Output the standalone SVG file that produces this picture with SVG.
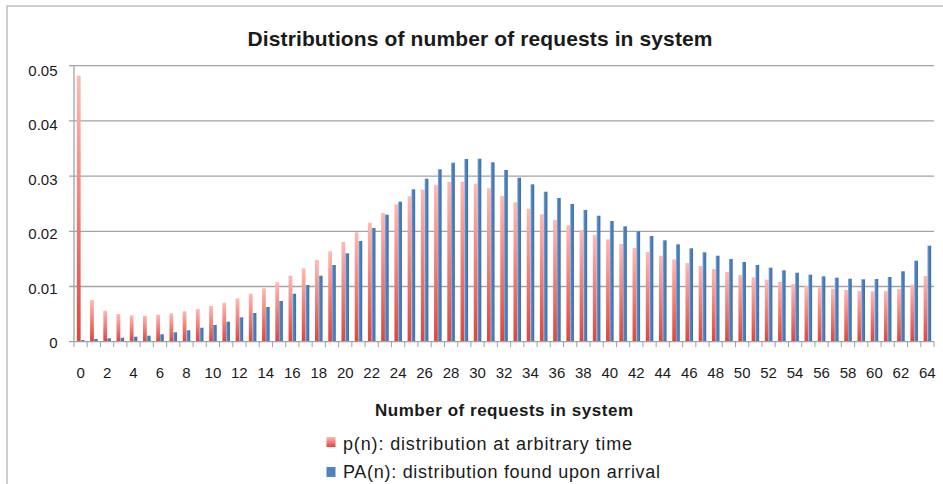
<svg xmlns="http://www.w3.org/2000/svg" width="943" height="484" viewBox="0 0 943 484">
<style>
text{font-family:"Liberation Sans",Arial,sans-serif;fill:#1a1a1a}
.ax{font-size:15px}
.yl{text-anchor:end}
.xl{text-anchor:middle}
.grid{stroke:#a3a3a3;stroke-width:1.3;fill:none}
.tick{stroke:#a3a3a3;stroke-width:1;fill:none}
.r{fill:url(#gr)}
.b{fill:url(#gb)}
</style>
<defs>
<linearGradient id="gr" x1="0" y1="0" x2="0" y2="1">
<stop offset="0" stop-color="#ffb9b4"/>
<stop offset="1" stop-color="#dd463c"/>
</linearGradient>
<linearGradient id="gb" x1="0" y1="0" x2="1" y2="0">
<stop offset="0" stop-color="#8cb0dc"/>
<stop offset="0.35" stop-color="#4f82c0"/>
<stop offset="1" stop-color="#3d6eab"/>
</linearGradient>
</defs>
<rect x="0" y="0" width="943" height="484" fill="#fff"/>
<rect id="frame" x="7" y="6" width="1000" height="600" fill="#fff" stroke="#bdbdbd" stroke-width="1.5"/>
<text id="title" x="480" y="46" text-anchor="middle" font-size="21" font-weight="bold" textLength="465">Distributions of number of requests in system</text>
<g id="gridlines">
<path class="grid" d="M69 65.7H934M69 120.9H934M69 176.1H934M69 231.3H934M69 286.5H934"/>
</g>
<g id="series-p">
<rect class="r" x="76.85" y="75.7" width="3.78" height="266.0"/>
<rect class="r" x="90.08" y="300" width="3.78" height="41.7"/>
<rect class="r" x="103.31" y="310.7" width="3.78" height="31.0"/>
<rect class="r" x="116.54" y="314" width="3.78" height="27.7"/>
<rect class="r" x="129.77" y="315.3" width="3.78" height="26.4"/>
<rect class="r" x="143.00" y="315.7" width="3.78" height="26.0"/>
<rect class="r" x="156.23" y="314.7" width="3.78" height="27.0"/>
<rect class="r" x="169.47" y="313.3" width="3.78" height="28.4"/>
<rect class="r" x="182.70" y="311.3" width="3.78" height="30.4"/>
<rect class="r" x="195.93" y="309" width="3.78" height="32.7"/>
<rect class="r" x="209.16" y="306" width="3.78" height="35.7"/>
<rect class="r" x="222.39" y="302.7" width="3.78" height="39.0"/>
<rect class="r" x="235.62" y="298.3" width="3.78" height="43.4"/>
<rect class="r" x="248.85" y="293.7" width="3.78" height="48.0"/>
<rect class="r" x="262.08" y="288.3" width="3.78" height="53.4"/>
<rect class="r" x="275.31" y="282.3" width="3.78" height="59.4"/>
<rect class="r" x="288.54" y="275.7" width="3.78" height="66.0"/>
<rect class="r" x="301.77" y="268.3" width="3.78" height="73.4"/>
<rect class="r" x="315.00" y="260" width="3.78" height="81.7"/>
<rect class="r" x="328.24" y="251.3" width="3.78" height="90.4"/>
<rect class="r" x="341.47" y="242" width="3.78" height="99.7"/>
<rect class="r" x="354.70" y="232.3" width="3.78" height="109.4"/>
<rect class="r" x="367.93" y="222.7" width="3.78" height="119.0"/>
<rect class="r" x="381.16" y="213" width="3.78" height="128.7"/>
<rect class="r" x="394.39" y="204.3" width="3.78" height="137.4"/>
<rect class="r" x="407.62" y="196.3" width="3.78" height="145.4"/>
<rect class="r" x="420.85" y="189.7" width="3.78" height="152.0"/>
<rect class="r" x="434.08" y="184.7" width="3.78" height="157.0"/>
<rect class="r" x="447.31" y="182" width="3.78" height="159.7"/>
<rect class="r" x="460.54" y="181.7" width="3.78" height="160.0"/>
<rect class="r" x="473.77" y="183.7" width="3.78" height="158.0"/>
<rect class="r" x="487.01" y="188.3" width="3.78" height="153.4"/>
<rect class="r" x="500.24" y="196" width="3.78" height="145.7"/>
<rect class="r" x="513.47" y="202.3" width="3.78" height="139.4"/>
<rect class="r" x="526.70" y="208.7" width="3.78" height="133.0"/>
<rect class="r" x="539.93" y="214.3" width="3.78" height="127.4"/>
<rect class="r" x="553.16" y="220" width="3.78" height="121.7"/>
<rect class="r" x="566.39" y="225.3" width="3.78" height="116.4"/>
<rect class="r" x="579.62" y="230" width="3.78" height="111.7"/>
<rect class="r" x="592.85" y="235" width="3.78" height="106.7"/>
<rect class="r" x="606.08" y="239.3" width="3.78" height="102.4"/>
<rect class="r" x="619.31" y="244" width="3.78" height="97.7"/>
<rect class="r" x="632.54" y="248" width="3.78" height="93.7"/>
<rect class="r" x="645.78" y="252" width="3.78" height="89.7"/>
<rect class="r" x="659.01" y="255.7" width="3.78" height="86.0"/>
<rect class="r" x="672.24" y="259.3" width="3.78" height="82.4"/>
<rect class="r" x="685.47" y="263" width="3.78" height="78.7"/>
<rect class="r" x="698.70" y="266" width="3.78" height="75.7"/>
<rect class="r" x="711.93" y="269" width="3.78" height="72.7"/>
<rect class="r" x="725.16" y="272" width="3.78" height="69.7"/>
<rect class="r" x="738.39" y="275" width="3.78" height="66.7"/>
<rect class="r" x="751.62" y="277.3" width="3.78" height="64.4"/>
<rect class="r" x="764.85" y="279.7" width="3.78" height="62.0"/>
<rect class="r" x="778.08" y="282" width="3.78" height="59.7"/>
<rect class="r" x="791.31" y="284" width="3.78" height="57.7"/>
<rect class="r" x="804.55" y="286" width="3.78" height="55.7"/>
<rect class="r" x="817.78" y="287.3" width="3.78" height="54.4"/>
<rect class="r" x="831.01" y="288.7" width="3.78" height="53.0"/>
<rect class="r" x="844.24" y="290" width="3.78" height="51.7"/>
<rect class="r" x="857.47" y="291" width="3.78" height="50.7"/>
<rect class="r" x="870.70" y="291.3" width="3.78" height="50.4"/>
<rect class="r" x="883.93" y="291" width="3.78" height="50.7"/>
<rect class="r" x="897.16" y="289" width="3.78" height="52.7"/>
<rect class="r" x="910.39" y="284.7" width="3.78" height="57.0"/>
<rect class="r" x="923.62" y="276" width="3.78" height="65.7"/>
</g>
<g id="series-pa">
<rect class="b" x="80.63" y="340" width="3.78" height="1.7"/>
<rect class="b" x="93.86" y="339" width="3.78" height="2.7"/>
<rect class="b" x="107.09" y="338.3" width="3.78" height="3.4"/>
<rect class="b" x="120.32" y="337.7" width="3.78" height="4.0"/>
<rect class="b" x="133.55" y="336.7" width="3.78" height="5.0"/>
<rect class="b" x="146.78" y="335.7" width="3.78" height="6.0"/>
<rect class="b" x="160.01" y="334.3" width="3.78" height="7.4"/>
<rect class="b" x="173.25" y="332.3" width="3.78" height="9.4"/>
<rect class="b" x="186.48" y="330.3" width="3.78" height="11.4"/>
<rect class="b" x="199.71" y="327.7" width="3.78" height="14.0"/>
<rect class="b" x="212.94" y="325" width="3.78" height="16.7"/>
<rect class="b" x="226.17" y="321.7" width="3.78" height="20.0"/>
<rect class="b" x="239.40" y="317.3" width="3.78" height="24.4"/>
<rect class="b" x="252.63" y="313" width="3.78" height="28.7"/>
<rect class="b" x="265.86" y="307" width="3.78" height="34.7"/>
<rect class="b" x="279.09" y="301" width="3.78" height="40.7"/>
<rect class="b" x="292.32" y="293.7" width="3.78" height="48.0"/>
<rect class="b" x="305.55" y="285" width="3.78" height="56.7"/>
<rect class="b" x="318.78" y="275.7" width="3.78" height="66.0"/>
<rect class="b" x="332.02" y="265" width="3.78" height="76.7"/>
<rect class="b" x="345.25" y="253.3" width="3.78" height="88.4"/>
<rect class="b" x="358.48" y="241" width="3.78" height="100.7"/>
<rect class="b" x="371.71" y="228" width="3.78" height="113.7"/>
<rect class="b" x="384.94" y="214.7" width="3.78" height="127.0"/>
<rect class="b" x="398.17" y="201.7" width="3.78" height="140.0"/>
<rect class="b" x="411.40" y="189.3" width="3.78" height="152.4"/>
<rect class="b" x="424.63" y="178.7" width="3.78" height="163.0"/>
<rect class="b" x="437.86" y="169.3" width="3.78" height="172.4"/>
<rect class="b" x="451.09" y="162.7" width="3.78" height="179.0"/>
<rect class="b" x="464.32" y="159" width="3.78" height="182.7"/>
<rect class="b" x="477.55" y="158.7" width="3.78" height="183.0"/>
<rect class="b" x="490.79" y="162.3" width="3.78" height="179.4"/>
<rect class="b" x="504.02" y="170" width="3.78" height="171.7"/>
<rect class="b" x="517.25" y="177.7" width="3.78" height="164.0"/>
<rect class="b" x="530.48" y="184.3" width="3.78" height="157.4"/>
<rect class="b" x="543.71" y="191.7" width="3.78" height="150.0"/>
<rect class="b" x="556.94" y="198" width="3.78" height="143.7"/>
<rect class="b" x="570.17" y="204" width="3.78" height="137.7"/>
<rect class="b" x="583.40" y="210" width="3.78" height="131.7"/>
<rect class="b" x="596.63" y="215.7" width="3.78" height="126.0"/>
<rect class="b" x="609.86" y="221" width="3.78" height="120.7"/>
<rect class="b" x="623.09" y="226.3" width="3.78" height="115.4"/>
<rect class="b" x="636.32" y="231.3" width="3.78" height="110.4"/>
<rect class="b" x="649.56" y="236" width="3.78" height="105.7"/>
<rect class="b" x="662.79" y="240.3" width="3.78" height="101.4"/>
<rect class="b" x="676.02" y="244.3" width="3.78" height="97.4"/>
<rect class="b" x="689.25" y="248.3" width="3.78" height="93.4"/>
<rect class="b" x="702.48" y="252.3" width="3.78" height="89.4"/>
<rect class="b" x="715.71" y="255.7" width="3.78" height="86.0"/>
<rect class="b" x="728.94" y="259" width="3.78" height="82.7"/>
<rect class="b" x="742.17" y="262" width="3.78" height="79.7"/>
<rect class="b" x="755.40" y="265" width="3.78" height="76.7"/>
<rect class="b" x="768.63" y="267.7" width="3.78" height="74.0"/>
<rect class="b" x="781.86" y="270.3" width="3.78" height="71.4"/>
<rect class="b" x="795.09" y="272.7" width="3.78" height="69.0"/>
<rect class="b" x="808.33" y="274.7" width="3.78" height="67.0"/>
<rect class="b" x="821.56" y="276.3" width="3.78" height="65.4"/>
<rect class="b" x="834.79" y="277.7" width="3.78" height="64.0"/>
<rect class="b" x="848.02" y="278.7" width="3.78" height="63.0"/>
<rect class="b" x="861.25" y="279.3" width="3.78" height="62.4"/>
<rect class="b" x="874.48" y="279" width="3.78" height="62.7"/>
<rect class="b" x="887.71" y="277" width="3.78" height="64.7"/>
<rect class="b" x="900.94" y="271.3" width="3.78" height="70.4"/>
<rect class="b" x="914.17" y="260.7" width="3.78" height="81.0"/>
<rect class="b" x="927.40" y="245.7" width="3.78" height="96.0"/>
</g>
<g id="axes">
<path class="grid" d="M74 65.7V341.7M69 341.7H934"/>
<path class="tick" d="M74 341.7v5.5M87.23 341.7v5.5M100.46 341.7v5.5M113.69 341.7v5.5M126.92 341.7v5.5M140.15 341.7v5.5M153.38 341.7v5.5M166.62 341.7v5.5M179.85 341.7v5.5M193.08 341.7v5.5M206.31 341.7v5.5M219.54 341.7v5.5M232.77 341.7v5.5M246 341.7v5.5M259.23 341.7v5.5M272.46 341.7v5.5M285.69 341.7v5.5M298.92 341.7v5.5M312.15 341.7v5.5M325.38 341.7v5.5M338.62 341.7v5.5M351.85 341.7v5.5M365.08 341.7v5.5M378.31 341.7v5.5M391.54 341.7v5.5M404.77 341.7v5.5M418 341.7v5.5M431.23 341.7v5.5M444.46 341.7v5.5M457.69 341.7v5.5M470.92 341.7v5.5M484.15 341.7v5.5M497.38 341.7v5.5M510.62 341.7v5.5M523.85 341.7v5.5M537.08 341.7v5.5M550.31 341.7v5.5M563.54 341.7v5.5M576.77 341.7v5.5M590 341.7v5.5M603.23 341.7v5.5M616.46 341.7v5.5M629.69 341.7v5.5M642.92 341.7v5.5M656.15 341.7v5.5M669.38 341.7v5.5M682.62 341.7v5.5M695.85 341.7v5.5M709.08 341.7v5.5M722.31 341.7v5.5M735.54 341.7v5.5M748.77 341.7v5.5M762 341.7v5.5M775.23 341.7v5.5M788.46 341.7v5.5M801.69 341.7v5.5M814.92 341.7v5.5M828.15 341.7v5.5M841.38 341.7v5.5M854.62 341.7v5.5M867.85 341.7v5.5M881.08 341.7v5.5M894.31 341.7v5.5M907.54 341.7v5.5M920.77 341.7v5.5M934 341.7v5.5"/>
</g>
<g id="y-labels" class="ax yl">
<text x="57.5" y="75.5">0.05</text>
<text x="57.5" y="130.2">0.04</text>
<text x="57.5" y="184.8">0.03</text>
<text x="57.5" y="239.3">0.02</text>
<text x="57.5" y="293.8">0.01</text>
<text x="57.5" y="348.3">0</text>
</g>
<g id="x-labels" class="ax xl">
<text x="80.62" y="377.5">0</text>
<text x="107.08" y="377.5">2</text>
<text x="133.54" y="377.5">4</text>
<text x="160" y="377.5">6</text>
<text x="186.46" y="377.5">8</text>
<text x="212.92" y="377.5">10</text>
<text x="239.38" y="377.5">12</text>
<text x="265.85" y="377.5">14</text>
<text x="292.31" y="377.5">16</text>
<text x="318.77" y="377.5">18</text>
<text x="345.23" y="377.5">20</text>
<text x="371.69" y="377.5">22</text>
<text x="398.15" y="377.5">24</text>
<text x="424.62" y="377.5">26</text>
<text x="451.08" y="377.5">28</text>
<text x="477.54" y="377.5">30</text>
<text x="504" y="377.5">32</text>
<text x="530.46" y="377.5">34</text>
<text x="556.92" y="377.5">36</text>
<text x="583.38" y="377.5">38</text>
<text x="609.85" y="377.5">40</text>
<text x="636.31" y="377.5">42</text>
<text x="662.77" y="377.5">44</text>
<text x="689.23" y="377.5">46</text>
<text x="715.69" y="377.5">48</text>
<text x="742.15" y="377.5">50</text>
<text x="768.62" y="377.5">52</text>
<text x="795.08" y="377.5">54</text>
<text x="821.54" y="377.5">56</text>
<text x="848" y="377.5">58</text>
<text x="874.46" y="377.5">60</text>
<text x="900.92" y="377.5">62</text>
<text x="927.38" y="377.5">64</text>
</g>
<text id="x-title" x="504" y="416" text-anchor="middle" font-size="17" font-weight="bold" textLength="258">Number of requests in system</text>
<g id="legend">
<rect x="326.5" y="437" width="9" height="10" fill="url(#gr)"/>
<text x="343" y="450" font-size="18" textLength="289">p(n): distribution at arbitrary time</text>
<rect x="326.5" y="467" width="9" height="10" fill="#4f82c0"/>
<text x="343" y="477.5" font-size="18" textLength="317">PA(n): distribution found upon arrival</text>
</g>
</svg>
